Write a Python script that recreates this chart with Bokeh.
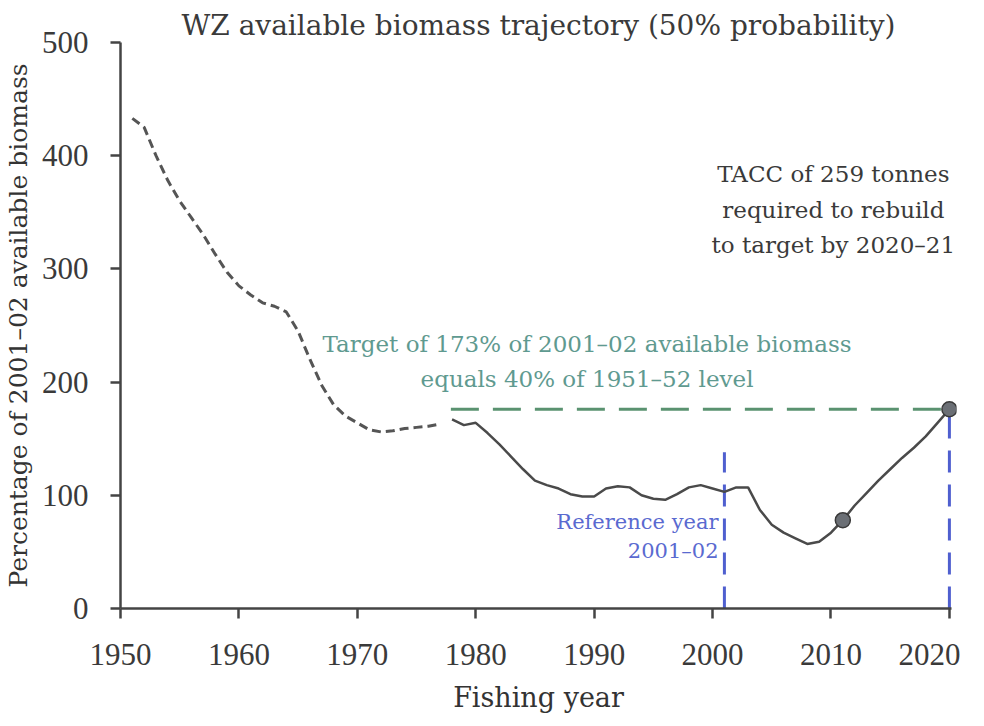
from bokeh.plotting import figure
from bokeh.models import Label, FixedTicker, Range1d
from bokeh.embed import file_html
from bokeh.resources import INLINE

# historical (dashed) trajectory
hist_years = list(range(1951, 1978))
hist_vals = [433, 425, 400, 378, 360, 345, 330, 313, 297, 285, 277, 270, 267, 262,
             245, 220, 197, 180, 170, 164, 158, 156, 157, 159, 160, 161, 163]
# model / projection (solid) trajectory
proj_years = list(range(1978, 2021))
proj_vals = [167, 162, 164, 155, 145, 134, 123, 113, 109, 106, 101, 99, 99, 106, 108,
             107, 100, 97, 96, 101, 107, 109, 106, 103, 107, 107, 87, 74, 67, 62, 57,
             59, 67, 78, 91, 102, 113, 123, 133, 142, 152, 164, 176]
marker_years = [2011, 2020]
marker_vals = [78, 176]
target_level = 176
target_start = 1977.9
ref_year = 2001
ref_top = 138
x_ticks = [1950, 1960, 1970, 1980, 1990, 2000, 2010, 2020]
y_ticks = [0, 100, 200, 300, 400, 500]

SERIF = "DejaVu Serif"

p = figure(width=960, height=725, output_backend="svg", toolbar_location=None,
           x_range=Range1d(1950, 2020.6), y_range=Range1d(0, 500),
           min_border_left=120, min_border_right=4, min_border_top=42,
           min_border_bottom=117,
           title="WZ available biomass trajectory (50% probability)")
p.outline_line_color = None
p.xgrid.grid_line_color = None
p.ygrid.grid_line_color = None
p.background_fill_color = "white"

p.title.text_font = SERIF
p.title.text_font_size = "28px"
p.title.text_font_style = "normal"
p.title.text_color = "#3a3a3a"
p.title.align = "center"
p.title.standoff = 1
p.title.offset = -5

for ax in (p.xaxis[0], p.yaxis[0]):
    ax.axis_line_color = "#444444"
    ax.axis_line_width = 2.5
    ax.major_tick_line_color = "#444444"
    ax.major_tick_line_width = 2.5
    ax.major_tick_out = 10
    ax.major_tick_in = 0
    ax.minor_tick_line_color = None
    ax.major_label_text_font = "Liberation Serif"
    ax.major_label_text_font_size = "31px"
    ax.major_label_text_color = "#3a3a3a"
    ax.axis_label_text_font = SERIF
    ax.axis_label_text_font_style = "normal"
    ax.axis_label_text_color = "#333333"

p.xaxis.ticker = FixedTicker(ticks=x_ticks)
p.yaxis.ticker = FixedTicker(ticks=y_ticks)
p.xaxis.bounds = (1950, 2020.2)
p.xaxis.major_label_standoff = 25
p.yaxis.major_label_standoff = 22
p.xaxis.axis_label = "Fishing year"
p.xaxis.axis_label_text_font_size = "27px"
p.xaxis.axis_label_standoff = 14
p.yaxis.axis_label = "Percentage of 2001\u201302 available biomass"
p.yaxis.axis_label_text_font_size = "25px"
p.yaxis.axis_label_standoff = 6

# target line
p.line([target_start, proj_years[-1]], [target_level, target_level],
       line_color="#5a9270", line_width=3, line_dash="28 14")
# reference year and end year vertical lines
p.line([ref_year, ref_year], [0, ref_top], line_color="#4f5fcf", line_width=3,
       line_dash="22 12")
p.line([proj_years[-1], proj_years[-1]], [0, target_level], line_color="#4f5fcf",
       line_width=3, line_dash="22 12")

# trajectories
p.line(hist_years, hist_vals, line_color="#555555", line_width=3, line_dash="9 5")
p.line(proj_years, proj_vals, line_color="#4a4a4a", line_width=2.5)
p.scatter(marker_years, marker_vals, size=15, fill_color="#6b6f75",
          line_color="#3a3a3a", line_width=1.5)

def lab(x, y, t, size, color, align="center"):
    p.add_layout(Label(x=x, y=y, text=t, text_font=SERIF, text_font_size=size,
                       text_color=color, text_align=align, text_baseline="middle"))

lab(2010.2, 384, "TACC of 259 tonnes", "23px", "#3a3a3a")
lab(2010.2, 352, "required to rebuild", "23px", "#3a3a3a")
lab(2010.2, 321, "to target by 2020\u201321", "23px", "#3a3a3a")
lab(1989.4, 234, "Target of 173% of 2001\u201302 available biomass", "23px", "#5f9a90")
lab(1989.4, 203, "equals 40% of 1951\u201352 level", "23px", "#5f9a90")
lab(2000.5, 76, "Reference year", "21px", "#5a6ad0", "right")
lab(2000.5, 51, "2001\u201302", "21px", "#5a6ad0", "right")

open("out.html", "w").write(file_html(p, INLINE))
